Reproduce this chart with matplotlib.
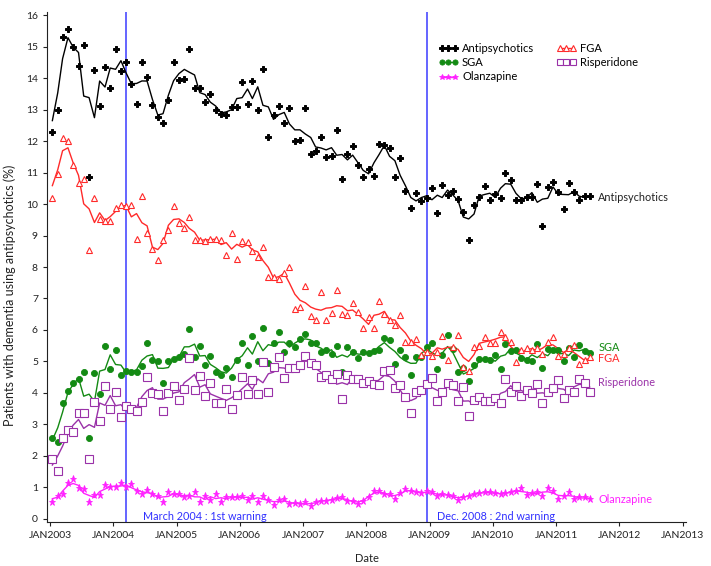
import matplotlib
matplotlib.use("Agg")
import matplotlib.pyplot as plt
import pandas as pd

plt.rcParams['font.family'] = ['Lato', 'DejaVu Sans']

start_month = "2003-01-01"
n_months = 103
year_ticks = list(range(2003, 2014))
tick_labels = [f"JAN{y}" for y in year_ticks]

antipsychotics = [12.3, 13.0, 15.3, 15.55, 15.0, 14.4, 15.04, 10.85, 14.25, 13.13,
                  14.34, 13.68, 14.94, 14.22, 14.5, 13.8, 13.17, 14.52, 14.04, 13.16,
                  12.76, 12.56, 13.29, 14.52, 13.94, 13.97, 14.92, 13.68, 13.7, 13.24,
                  13.49, 12.98, 12.87, 12.83, 13.08, 13.08, 13.89, 13.17, 13.9, 12.98,
                  14.29, 12.14, 12.83, 13.1, 12.59, 13.04, 12.0, 12.03, 13.04, 11.6,
                  11.7, 12.14, 11.5, 11.52, 12.35, 10.78, 11.59, 11.84, 11.23, 10.86,
                  11.12, 10.9, 11.91, 11.89, 11.79, 10.87, 11.47, 10.41, 9.86, 10.35,
                  10.09, 10.18, 10.52, 9.71, 10.61, 10.3, 10.42, 10.16, 9.74, 8.86,
                  9.98, 10.21, 10.57, 10.13, 10.33, 10.18, 11.0, 10.76, 10.13, 10.13,
                  10.23, 10.23, 10.63, 9.31, 10.53, 10.71, 10.39, 9.84, 10.68, 10.37,
                  10.13, 10.25, 10.25]

fga = [10.2, 10.97, 12.1, 12.01, 11.25, 10.67, 10.81, 8.54, 10.19, 9.51,
       9.46, 9.46, 9.88, 9.96, 9.94, 9.96, 8.88, 10.25, 9.09, 8.58,
       8.22, 8.86, 9.17, 9.95, 9.41, 9.23, 9.6, 8.86, 8.86, 8.83,
       8.89, 8.89, 8.87, 8.38, 9.07, 8.26, 8.83, 8.8, 8.51, 8.31,
       8.63, 7.67, 7.67, 7.61, 7.8, 7.99, 6.68, 6.74, 7.41, 6.44,
       6.33, 7.22, 6.33, 6.53, 7.27, 6.51, 6.47, 6.85, 6.58, 6.06,
       6.41, 6.06, 6.93, 6.51, 6.33, 6.15, 6.47, 5.62, 5.62, 5.7,
       5.22, 5.3, 5.18, 5.3, 5.82, 5.05, 5.47, 5.85, 4.83, 4.7,
       5.47, 5.49, 5.77, 5.6, 5.6, 5.92, 5.79, 5.63, 4.99, 5.37,
       5.42, 5.37, 5.42, 5.23, 5.61, 5.79, 5.17, 5.25, 5.42, 5.52,
       4.91, 5.05, 5.15]

sga = [2.58, 2.43, 3.67, 4.07, 4.31, 4.43, 4.68, 2.58, 4.62, 3.97,
       5.49, 4.77, 5.37, 4.57, 4.71, 4.68, 4.65, 4.87, 5.6, 5.05,
       5.0, 4.31, 5.03, 5.08, 5.13, 5.24, 6.02, 5.14, 5.49, 4.89,
       5.18, 4.65, 4.57, 4.8, 4.52, 5.05, 5.6, 4.89, 5.81, 5.0,
       6.07, 4.95, 5.58, 5.95, 5.31, 5.58, 5.47, 5.7, 5.87, 5.58,
       5.6, 5.3, 5.37, 5.24, 5.5, 4.65, 5.47, 5.3, 5.1, 5.3,
       5.28, 5.32, 5.37, 5.74, 5.68, 4.92, 5.35, 5.13, 4.56, 5.13,
       5.14, 5.47, 5.6, 4.76, 5.2, 5.83, 5.39, 4.65, 4.78, 4.37,
       4.89, 5.07, 5.07, 5.06, 5.2, 4.76, 5.54, 5.33, 5.37, 5.1,
       5.05, 5.02, 5.56, 4.79, 5.39, 5.37, 5.35, 5.0, 5.42, 5.14,
       5.53, 5.34, 5.28]

risperidone = [1.9, 1.52, 2.58, 2.83, 2.75, 3.35, 3.37, 1.9, 3.71, 3.11,
               4.22, 3.49, 4.04, 3.25, 3.59, 3.49, 3.43, 3.7, 4.52, 4.01,
               3.97, 3.43, 4.01, 4.22, 3.76, 4.12, 5.1, 4.1, 4.55, 3.9,
               4.33, 3.68, 3.68, 4.12, 3.49, 3.93, 4.5, 3.97, 4.4, 3.97,
               4.97, 4.03, 4.82, 5.13, 4.46, 4.78, 4.8, 4.9, 5.17, 4.96,
               4.89, 4.5, 4.57, 4.43, 4.6, 3.8, 4.57, 4.43, 4.45, 4.33,
               4.39, 4.29, 4.25, 4.7, 4.72, 4.15, 4.25, 3.88, 3.35, 4.04,
               4.1, 4.29, 4.46, 3.75, 4.04, 4.31, 4.25, 3.75, 4.2, 3.27,
               3.77, 3.88, 3.74, 3.74, 3.85, 3.67, 4.44, 4.02, 4.23, 3.9,
               4.1, 4.0, 4.28, 3.69, 4.04, 4.17, 4.41, 3.84, 4.1, 4.04,
               4.44, 4.33, 4.04]

olanzapine = [0.55, 0.73, 0.79, 1.13, 1.27, 0.97, 0.95, 0.52, 0.76, 0.76,
              1.08, 1.0, 1.0, 1.13, 1.0, 1.1, 0.87, 0.79, 0.92, 0.78,
              0.73, 0.52, 0.84, 0.78, 0.79, 0.68, 0.74, 0.84, 0.52, 0.73,
              0.6, 0.78, 0.55, 0.68, 0.68, 0.68, 0.73, 0.6, 0.73, 0.55,
              0.73, 0.6, 0.43, 0.61, 0.62, 0.47, 0.5, 0.48, 0.52, 0.4,
              0.55, 0.57, 0.58, 0.6, 0.65, 0.7, 0.57, 0.57, 0.48, 0.57,
              0.68, 0.9, 0.87, 0.79, 0.79, 0.62, 0.81, 0.95, 0.9, 0.84,
              0.81, 0.87, 0.84, 0.73, 0.79, 0.76, 0.73, 0.6, 0.7, 0.73,
              0.79, 0.81, 0.84, 0.84, 0.81, 0.78, 0.81, 0.84, 0.87, 0.97,
              0.76, 0.81, 0.84, 0.74, 0.97, 0.87, 0.62, 0.74, 0.84, 0.63,
              0.68, 0.68, 0.63]

series_names = ["Antipsychotics", "SGA", "Olanzapine", "FGA", "Risperidone"]
warnings = [("2004-03-14", "March 2004 : 1st warning", "2004-06-20"),
            ("2008-12-14", "Dec. 2008 : 2nd warning", "2009-02-10")]

dates = pd.date_range(start_month, periods=n_months, freq="MS") + pd.Timedelta(days=13)

fig = plt.figure(figsize=(7.11, 5.66), dpi=100)
ax = fig.add_axes([47/711, 1-522/566, (686-47)/711, (522-12)/566])

styles = {
    "Antipsychotics": dict(data=antipsychotics, color="black", marker="P", ms=4.8, mfc="black", mew=0.7),
    "SGA": dict(data=sga, color="#138a13", marker="o", ms=4.4, mfc="#138a13", mew=0.6),
    "Olanzapine": dict(data=olanzapine, color="#ff22ff", marker="*", ms=5.2, mfc="#ff22ff", mew=0.6),
    "FGA": dict(data=fga, color="#ff2a2a", marker="^", ms=4.6, mfc="white", mew=0.8),
    "Risperidone": dict(data=risperidone, color="#9a32a8", marker="s", ms=5.2, mfc="white", mew=0.8),
}

handles = []
for name in series_names:
    st = styles[name]
    s = pd.Series(st["data"], index=dates)
    smooth = s.rolling(3, center=True, min_periods=1).mean()
    ax.plot(dates, s.values, linestyle="none", marker=st["marker"], ms=st["ms"],
            mfc=st["mfc"], mec=st["color"], mew=st["mew"], zorder=3)
    ax.plot(dates, smooth.values, color=st["color"], lw=1.0, zorder=2)
    h, = ax.plot([], [], color=st["color"], lw=1.0, marker=st["marker"], ms=st["ms"]*0.85,
                 mfc=st["mfc"], mec=st["color"], mew=st["mew"], label=name)
    handles.append(h)

for wdate, wtext, tdate in warnings:
    ax.axvline(pd.Timestamp(wdate), color="#4a4aff", lw=1.2, zorder=1)
    ax.text(pd.Timestamp(tdate), 0.08, wtext, color="#3030ff", fontsize=7.8,
            va="center", ha="left")

label_pos = {"Antipsychotics": ("2011-09-01", 10.2, "#222222"),
             "SGA": ("2011-09-01", 5.43, "#138a13"),
             "FGA": ("2011-09-01", 5.08, "#ff2a2a"),
             "Risperidone": ("2011-09-01", 4.32, "#9a32a8"),
             "Olanzapine": ("2011-09-01", 0.63, "#ff22ff")}
for name, (d, y, c) in label_pos.items():
    ax.text(pd.Timestamp(d), y, name, color=c, fontsize=7.8, va="center", ha="left")

ax.set_xlim(pd.Timestamp("2002-12-14"), pd.Timestamp("2013-01-20"))
ax.set_ylim(-0.1, 16.1)
ax.set_yticks(range(0, 17))
ax.set_xticks([pd.Timestamp(f"{y}-01-01") for y in year_ticks])
ax.set_xticklabels(tick_labels)
ax.tick_params(direction="out", length=3, width=0.8, labelsize=7.5, colors="#222222")
for sp in ["top", "right"]:
    ax.spines[sp].set_visible(False)
for sp in ["left", "bottom"]:
    ax.spines[sp].set_color("#222222")
    ax.spines[sp].set_linewidth(0.8)

ax.set_xlabel("Date", fontsize=8, color="#222222", labelpad=9)
ax.set_ylabel("Patients with dementia using antipsychotics (%)", fontsize=9, color="#222222")
ax.yaxis.set_label_coords(-0.048, 0.445)

ax.legend(handles=handles, loc="upper left", bbox_to_anchor=(0.6, 0.955), ncol=2,
          frameon=False, fontsize=8, numpoints=3, handlelength=1.8, handletextpad=0.35,
          labelspacing=0.3, columnspacing=2.0, borderpad=0.2)

fig.savefig("out.png", dpi=100)
